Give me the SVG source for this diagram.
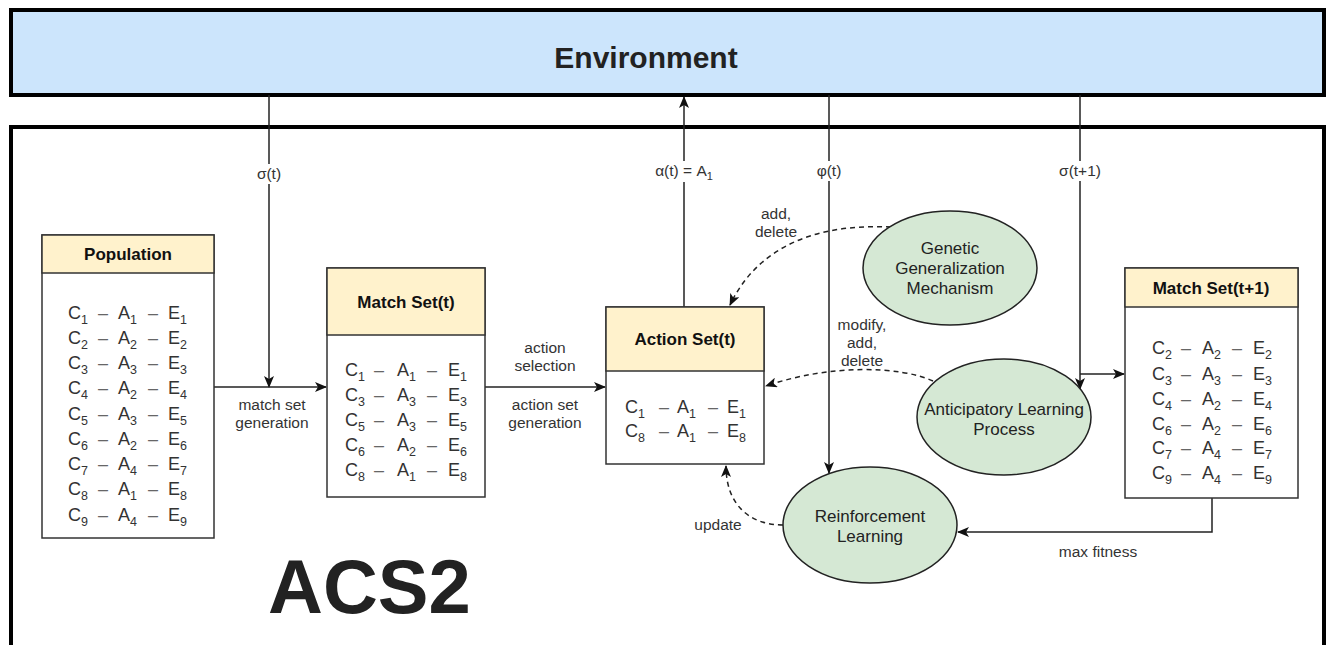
<svg xmlns="http://www.w3.org/2000/svg" width="1330" height="645" viewBox="0 0 1330 645">
<style>
text{font-family:"Liberation Sans",Arial,sans-serif;fill:#222}
.lbl{font-size:15.5px;text-anchor:middle;fill:#333}
.hdr{font-size:17px;font-weight:bold;text-anchor:middle;fill:#111}
.ent{font-size:18px;fill:#333}
.ent .s{font-size:12.5px}
.ent .d{fill:#666}
.ell{font-size:17px;text-anchor:middle;fill:#222}
.box{fill:#fff;stroke:#333;stroke-width:1.5}
.head{fill:#fff2cc;stroke:#333;stroke-width:1.5}
.el{fill:#d5e8d4;stroke:#222;stroke-width:1.5}
.ln{fill:none;stroke:#222;stroke-width:1.5}
.dash{fill:none;stroke:#222;stroke-width:1.5;stroke-dasharray:5 4}
</style>
<defs>
<marker id="arr" viewBox="0 0 12 10" refX="11" refY="5" markerWidth="12" markerHeight="10" markerUnits="userSpaceOnUse" orient="auto">
<path d="M0,0 L12,5 L0,10 L3,5 z" fill="#111"/>
</marker>
</defs>

<g id="environment">
<rect x="11" y="10" width="1313" height="85" fill="#cce5fc" stroke="#000" stroke-width="4"/>
<text x="646" y="68" font-size="30" font-weight="bold" text-anchor="middle" fill="#111">Environment</text>
</g>

<g id="acs2">
<rect x="11" y="127" width="1313" height="600" fill="#fff" stroke="#000" stroke-width="4"/>
<text x="268" y="613" font-size="76" font-weight="bold" fill="#000">ACS2</text>
</g>

<g id="connectors">
<line class="ln" x1="269" y1="95" x2="269" y2="387" marker-end="url(#arr)"/>
<rect x="255" y="164" width="28" height="20" fill="#fff"/>
<text class="lbl" x="269" y="179">σ(t)</text>
<line class="ln" x1="214" y1="387" x2="326" y2="387" marker-end="url(#arr)"/>
<text class="lbl" x="272" y="410">match set</text>
<text class="lbl" x="272" y="428">generation</text>
<line class="ln" x1="485" y1="387" x2="605" y2="387" marker-end="url(#arr)"/>
<text class="lbl" x="545" y="353">action</text>
<text class="lbl" x="545" y="371">selection</text>
<text class="lbl" x="545" y="410">action set</text>
<text class="lbl" x="545" y="428">generation</text>
<line class="ln" x1="684" y1="307" x2="684" y2="97" marker-end="url(#arr)"/>
<rect x="643" y="161" width="84" height="21" fill="#fff"/>
<text class="lbl" x="684" y="176">α(t) = A<tspan font-size="11" dy="4">1</tspan></text>
<line class="ln" x1="829" y1="95" x2="829" y2="473" marker-end="url(#arr)"/>
<rect x="814" y="161" width="30" height="20" fill="#fff"/>
<text class="lbl" x="829" y="176">φ(t)</text>
<line class="ln" x1="1080" y1="95" x2="1080" y2="389" marker-end="url(#arr)"/>
<rect x="1055" y="161" width="50" height="20" fill="#fff"/>
<text class="lbl" x="1080" y="176">σ(t+1)</text>
<line class="ln" x1="1080" y1="374" x2="1124" y2="374" marker-end="url(#arr)"/>
<polyline class="ln" points="1212,498 1212,532 958,532" marker-end="url(#arr)"/>
<text class="lbl" x="1098" y="557">max fitness</text>
<path class="dash" d="M891,227 C830,224 762,238 730,305" marker-end="url(#arr)"/>
<text class="lbl" x="776" y="219">add,</text>
<text class="lbl" x="776" y="237">delete</text>
<path class="dash" d="M933,381 C900,366 830,364 766,386" marker-end="url(#arr)"/>
<text class="lbl" x="862" y="330">modify,</text>
<text class="lbl" x="862" y="348">add,</text>
<text class="lbl" x="862" y="366">delete</text>
<path class="dash" d="M783,525 C750,525 726,505 726,466" marker-end="url(#arr)"/>
<text class="lbl" x="718" y="530">update</text>
</g>

<g id="population">
<rect class="box" x="42" y="235" width="172" height="303"/>
<rect class="head" x="42" y="235" width="172" height="38"/>
<text class="hdr" x="128" y="260">Population</text>
<text class="ent" y="319"><tspan x="68">C</tspan><tspan class="s" dy="5">1</tspan><tspan class="d" x="98" dy="-5">–</tspan><tspan x="118">A</tspan><tspan class="s" dy="5">1</tspan><tspan class="d" x="148" dy="-5">–</tspan><tspan x="168">E</tspan><tspan class="s" dy="5">1</tspan></text>
<text class="ent" y="344"><tspan x="68">C</tspan><tspan class="s" dy="5">2</tspan><tspan class="d" x="98" dy="-5">–</tspan><tspan x="118">A</tspan><tspan class="s" dy="5">2</tspan><tspan class="d" x="148" dy="-5">–</tspan><tspan x="168">E</tspan><tspan class="s" dy="5">2</tspan></text>
<text class="ent" y="369"><tspan x="68">C</tspan><tspan class="s" dy="5">3</tspan><tspan class="d" x="98" dy="-5">–</tspan><tspan x="118">A</tspan><tspan class="s" dy="5">3</tspan><tspan class="d" x="148" dy="-5">–</tspan><tspan x="168">E</tspan><tspan class="s" dy="5">3</tspan></text>
<text class="ent" y="394"><tspan x="68">C</tspan><tspan class="s" dy="5">4</tspan><tspan class="d" x="98" dy="-5">–</tspan><tspan x="118">A</tspan><tspan class="s" dy="5">2</tspan><tspan class="d" x="148" dy="-5">–</tspan><tspan x="168">E</tspan><tspan class="s" dy="5">4</tspan></text>
<text class="ent" y="420"><tspan x="68">C</tspan><tspan class="s" dy="5">5</tspan><tspan class="d" x="98" dy="-5">–</tspan><tspan x="118">A</tspan><tspan class="s" dy="5">3</tspan><tspan class="d" x="148" dy="-5">–</tspan><tspan x="168">E</tspan><tspan class="s" dy="5">5</tspan></text>
<text class="ent" y="445"><tspan x="68">C</tspan><tspan class="s" dy="5">6</tspan><tspan class="d" x="98" dy="-5">–</tspan><tspan x="118">A</tspan><tspan class="s" dy="5">2</tspan><tspan class="d" x="148" dy="-5">–</tspan><tspan x="168">E</tspan><tspan class="s" dy="5">6</tspan></text>
<text class="ent" y="470"><tspan x="68">C</tspan><tspan class="s" dy="5">7</tspan><tspan class="d" x="98" dy="-5">–</tspan><tspan x="118">A</tspan><tspan class="s" dy="5">4</tspan><tspan class="d" x="148" dy="-5">–</tspan><tspan x="168">E</tspan><tspan class="s" dy="5">7</tspan></text>
<text class="ent" y="495"><tspan x="68">C</tspan><tspan class="s" dy="5">8</tspan><tspan class="d" x="98" dy="-5">–</tspan><tspan x="118">A</tspan><tspan class="s" dy="5">1</tspan><tspan class="d" x="148" dy="-5">–</tspan><tspan x="168">E</tspan><tspan class="s" dy="5">8</tspan></text>
<text class="ent" y="521"><tspan x="68">C</tspan><tspan class="s" dy="5">9</tspan><tspan class="d" x="98" dy="-5">–</tspan><tspan x="118">A</tspan><tspan class="s" dy="5">4</tspan><tspan class="d" x="148" dy="-5">–</tspan><tspan x="168">E</tspan><tspan class="s" dy="5">9</tspan></text>
</g>

<g id="match-set-t">
<rect class="box" x="327" y="268" width="158" height="229"/>
<rect class="head" x="327" y="268" width="158" height="67"/>
<text class="hdr" x="406" y="308">Match Set(t)</text>
<text class="ent" y="376"><tspan x="345">C</tspan><tspan class="s" dy="5">1</tspan><tspan class="d" x="374" dy="-5">–</tspan><tspan x="397">A</tspan><tspan class="s" dy="5">1</tspan><tspan class="d" x="427" dy="-5">–</tspan><tspan x="448">E</tspan><tspan class="s" dy="5">1</tspan></text>
<text class="ent" y="401"><tspan x="345">C</tspan><tspan class="s" dy="5">3</tspan><tspan class="d" x="374" dy="-5">–</tspan><tspan x="397">A</tspan><tspan class="s" dy="5">3</tspan><tspan class="d" x="427" dy="-5">–</tspan><tspan x="448">E</tspan><tspan class="s" dy="5">3</tspan></text>
<text class="ent" y="426"><tspan x="345">C</tspan><tspan class="s" dy="5">5</tspan><tspan class="d" x="374" dy="-5">–</tspan><tspan x="397">A</tspan><tspan class="s" dy="5">3</tspan><tspan class="d" x="427" dy="-5">–</tspan><tspan x="448">E</tspan><tspan class="s" dy="5">5</tspan></text>
<text class="ent" y="451"><tspan x="345">C</tspan><tspan class="s" dy="5">6</tspan><tspan class="d" x="374" dy="-5">–</tspan><tspan x="397">A</tspan><tspan class="s" dy="5">2</tspan><tspan class="d" x="427" dy="-5">–</tspan><tspan x="448">E</tspan><tspan class="s" dy="5">6</tspan></text>
<text class="ent" y="476"><tspan x="345">C</tspan><tspan class="s" dy="5">8</tspan><tspan class="d" x="374" dy="-5">–</tspan><tspan x="397">A</tspan><tspan class="s" dy="5">1</tspan><tspan class="d" x="427" dy="-5">–</tspan><tspan x="448">E</tspan><tspan class="s" dy="5">8</tspan></text>
</g>

<g id="action-set-t">
<rect class="box" x="606" y="307" width="158" height="157"/>
<rect class="head" x="606" y="307" width="158" height="64"/>
<text class="hdr" x="685" y="345">Action Set(t)</text>
<text class="ent" y="413"><tspan x="625">C</tspan><tspan class="s" dy="5">1</tspan><tspan class="d" x="659" dy="-5">–</tspan><tspan x="677">A</tspan><tspan class="s" dy="5">1</tspan><tspan class="d" x="708" dy="-5">–</tspan><tspan x="727">E</tspan><tspan class="s" dy="5">1</tspan></text>
<text class="ent" y="437"><tspan x="625">C</tspan><tspan class="s" dy="5">8</tspan><tspan class="d" x="659" dy="-5">–</tspan><tspan x="677">A</tspan><tspan class="s" dy="5">1</tspan><tspan class="d" x="708" dy="-5">–</tspan><tspan x="727">E</tspan><tspan class="s" dy="5">8</tspan></text>
</g>

<g id="match-set-t1">
<rect class="box" x="1125" y="268" width="173" height="230"/>
<rect class="head" x="1125" y="268" width="173" height="39"/>
<text class="hdr" x="1211" y="294">Match Set(t+1)</text>
<text class="ent" y="354"><tspan x="1152">C</tspan><tspan class="s" dy="5">2</tspan><tspan class="d" x="1181" dy="-5">–</tspan><tspan x="1202">A</tspan><tspan class="s" dy="5">2</tspan><tspan class="d" x="1232" dy="-5">–</tspan><tspan x="1253">E</tspan><tspan class="s" dy="5">2</tspan></text>
<text class="ent" y="380"><tspan x="1152">C</tspan><tspan class="s" dy="5">3</tspan><tspan class="d" x="1181" dy="-5">–</tspan><tspan x="1202">A</tspan><tspan class="s" dy="5">3</tspan><tspan class="d" x="1232" dy="-5">–</tspan><tspan x="1253">E</tspan><tspan class="s" dy="5">3</tspan></text>
<text class="ent" y="405"><tspan x="1152">C</tspan><tspan class="s" dy="5">4</tspan><tspan class="d" x="1181" dy="-5">–</tspan><tspan x="1202">A</tspan><tspan class="s" dy="5">2</tspan><tspan class="d" x="1232" dy="-5">–</tspan><tspan x="1253">E</tspan><tspan class="s" dy="5">4</tspan></text>
<text class="ent" y="430"><tspan x="1152">C</tspan><tspan class="s" dy="5">6</tspan><tspan class="d" x="1181" dy="-5">–</tspan><tspan x="1202">A</tspan><tspan class="s" dy="5">2</tspan><tspan class="d" x="1232" dy="-5">–</tspan><tspan x="1253">E</tspan><tspan class="s" dy="5">6</tspan></text>
<text class="ent" y="454"><tspan x="1152">C</tspan><tspan class="s" dy="5">7</tspan><tspan class="d" x="1181" dy="-5">–</tspan><tspan x="1202">A</tspan><tspan class="s" dy="5">4</tspan><tspan class="d" x="1232" dy="-5">–</tspan><tspan x="1253">E</tspan><tspan class="s" dy="5">7</tspan></text>
<text class="ent" y="479"><tspan x="1152">C</tspan><tspan class="s" dy="5">9</tspan><tspan class="d" x="1181" dy="-5">–</tspan><tspan x="1202">A</tspan><tspan class="s" dy="5">4</tspan><tspan class="d" x="1232" dy="-5">–</tspan><tspan x="1253">E</tspan><tspan class="s" dy="5">9</tspan></text>
</g>

<g id="ggm">
<ellipse class="el" cx="950" cy="268" rx="87" ry="57"/>
<text class="ell" x="950" y="254">Genetic</text>
<text class="ell" x="950" y="274">Generalization</text>
<text class="ell" x="950" y="294">Mechanism</text>
</g>

<g id="alp">
<ellipse class="el" cx="1004" cy="417" rx="87" ry="58"/>
<text class="ell" x="1004" y="415">Anticipatory Learning</text>
<text class="ell" x="1004" y="435">Process</text>
</g>

<g id="rl">
<ellipse class="el" cx="870" cy="525" rx="87" ry="58"/>
<text class="ell" x="870" y="522">Reinforcement</text>
<text class="ell" x="870" y="542">Learning</text>
</g>
</svg>
